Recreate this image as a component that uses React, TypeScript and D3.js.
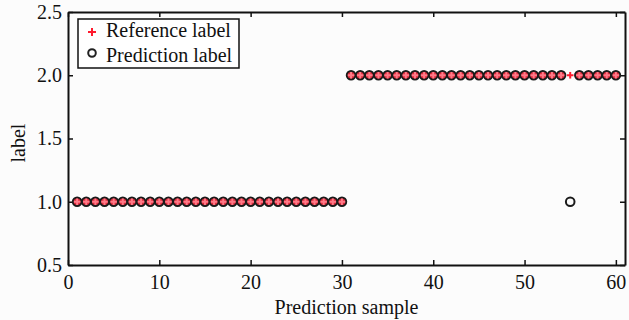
import React, { useEffect, useRef } from 'react';
import * as d3 from 'd3';

// sample indices 1..60
const samples: number[] = d3.range(1, 61);
// reference labels: first 30 are class 1, remaining 30 are class 2
const referenceLabels: number[] = [
  1, 1, 1, 1, 1, 1, 1, 1, 1, 1, 1, 1, 1, 1, 1, 1, 1, 1, 1, 1, 1, 1, 1, 1, 1, 1, 1, 1, 1, 1,
  2, 2, 2, 2, 2, 2, 2, 2, 2, 2, 2, 2, 2, 2, 2, 2, 2, 2, 2, 2, 2, 2, 2, 2, 2, 2, 2, 2, 2, 2,
];
// predicted labels: sample 55 is misclassified
const predictionLabels: number[] = [
  1, 1, 1, 1, 1, 1, 1, 1, 1, 1, 1, 1, 1, 1, 1, 1, 1, 1, 1, 1, 1, 1, 1, 1, 1, 1, 1, 1, 1, 1,
  2, 2, 2, 2, 2, 2, 2, 2, 2, 2, 2, 2, 2, 2, 2, 2, 2, 2, 2, 2, 2, 2, 2, 2, 1, 2, 2, 2, 2, 2,
];
const xTicks = [0, 10, 20, 30, 40, 50, 60];
const yTicks = [0.5, 1.0, 1.5, 2.0, 2.5];
const legendItems = ['Reference label', 'Prediction label'];

export default function App() {
  const svgRef = useRef<SVGSVGElement>(null);

  useEffect(() => {
    if (!svgRef.current) return;
    const width = 629;
    const height = 320;
    const margin = { top: 12, right: 4, bottom: 55, left: 68 };
    const font = '"Liberation Serif", "Times New Roman", serif';
    const fs = 20;

    const svg = d3.select(svgRef.current);
    svg.selectAll('*').remove();

    const x = d3.scaleLinear().domain([0, 61]).range([margin.left, width - margin.right]);
    const y = d3.scaleLinear().domain([0.5, 2.5]).range([height - margin.bottom, margin.top]);

    svg.append('rect').attr('width', width).attr('height', height).attr('fill', '#fcfcfc');

    // 1. Axes (MATLAB-like box, inward ticks)
    const tick = 5;
    const bottom = svg.append('g').attr('transform', `translate(0,${y(0.5)})`)
      .call(d3.axisBottom(x).tickValues(xTicks).tickSizeInner(-tick).tickSizeOuter(0).tickPadding(10).tickFormat(d3.format('d')));
    const top = svg.append('g').attr('transform', `translate(0,${y(2.5)})`)
      .call(d3.axisTop(x).tickValues(xTicks).tickSizeInner(-tick).tickSizeOuter(0).tickFormat(() => ''));
    const left = svg.append('g').attr('transform', `translate(${x(0)},0)`)
      .call(d3.axisLeft(y).tickValues(yTicks).tickSizeInner(-tick).tickSizeOuter(0).tickPadding(6).tickFormat(d3.format('.1f')));
    const right = svg.append('g').attr('transform', `translate(${x(61)},0)`)
      .call(d3.axisRight(y).tickValues(yTicks).tickSizeInner(-tick).tickSizeOuter(0).tickFormat(() => ''));

    [bottom, top, left, right].forEach(g => {
      g.select('.domain').attr('stroke', '#111').attr('stroke-width', 2);
      g.selectAll('.tick line').attr('stroke', '#111').attr('stroke-width', 1.5);
      g.selectAll('.tick text').attr('font-family', font).attr('font-size', fs).attr('fill', '#111');
    });

    // Axis titles
    svg.append('text')
      .attr('x', (x(0) + x(61)) / 2).attr('y', 314)
      .attr('text-anchor', 'middle').attr('font-family', font).attr('font-size', fs).attr('fill', '#111')
      .text('Prediction sample');
    svg.append('text')
      .attr('transform', 'rotate(-90)')
      .attr('x', -143).attr('y', 25)
      .attr('text-anchor', 'middle').attr('font-family', font).attr('font-size', fs).attr('fill', '#111')
      .text('label');

    // 2. Markers
    const plus = (g: d3.Selection<SVGGElement, unknown, null, undefined>, cx: number, cy: number, s: number, c = '#ff1a2e') => {
      g.append('line').attr('x1', cx - s).attr('x2', cx + s).attr('y1', cy).attr('y2', cy)
        .attr('stroke', c).attr('stroke-width', 2);
      g.append('line').attr('x1', cx).attr('x2', cx).attr('y1', cy - s).attr('y2', cy + s)
        .attr('stroke', c).attr('stroke-width', 2);
    };

    // circles that overlap a reference plus look red-filled in the original
    const circles = svg.append('g');
    samples.forEach((s, i) => {
      const overlap = predictionLabels[i] === referenceLabels[i];
      circles.append('circle')
        .attr('cx', x(s)).attr('cy', y(predictionLabels[i]))
        .attr('r', 4.3)
        .attr('fill', overlap ? '#e2283a' : 'none')
        .attr('stroke', '#1a1a1a').attr('stroke-width', 2);
    });
    const pluses = svg.append('g');
    samples.forEach((s, i) => {
      const overlap = predictionLabels[i] === referenceLabels[i];
      plus(pluses, x(s), y(referenceLabels[i]), 3.3, overlap ? '#ff7a88' : '#ff1a2e');
    });

    // 3. Legend
    const lg = svg.append('g');
    lg.append('rect').attr('x', 78).attr('y', 19).attr('width', 161).attr('height', 49)
      .attr('fill', '#fff').attr('stroke', '#111').attr('stroke-width', 1.5);
    plus(lg, 92, 32, 4);
    lg.append('circle').attr('cx', 92).attr('cy', 53).attr('r', 3.8)
      .attr('fill', 'none').attr('stroke', '#222').attr('stroke-width', 2);
    legendItems.forEach((t, i) => {
      lg.append('text').attr('x', 106).attr('y', 37 + i * 25)
        .attr('font-family', font).attr('font-size', fs).attr('fill', '#111').text(t);
    });
  }, []);

  return (
    <div style={{ position: 'fixed', left: 0, top: 0, width: 629, height: 320 }}>
      <svg ref={svgRef} width={629} height={320} style={{ display: 'block' }} />
    </div>
  );
}
